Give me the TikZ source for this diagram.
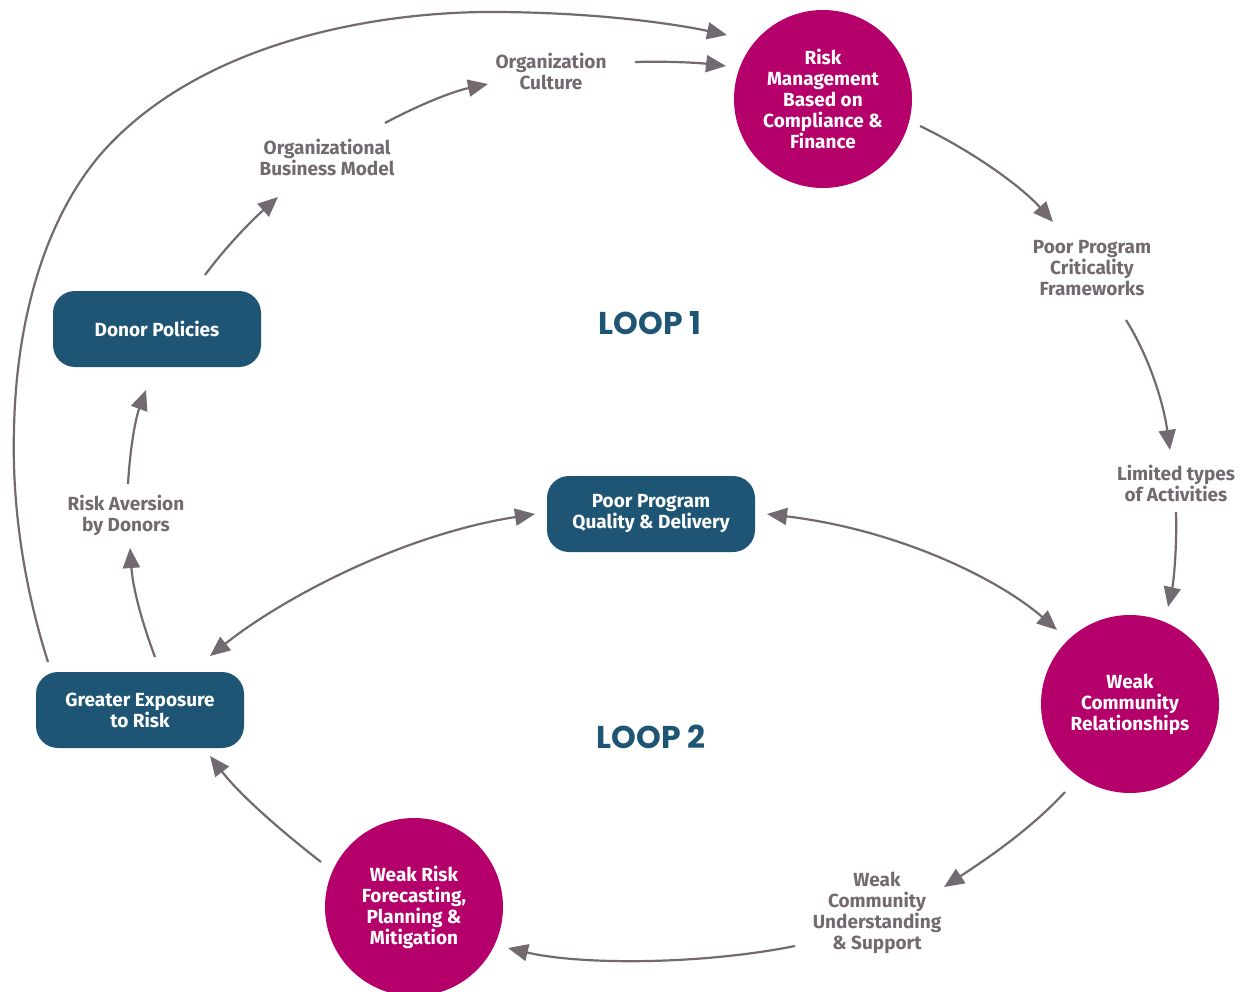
\documentclass[tikz,border=0pt]{standalone}
\usepackage{fontspec}
\setmainfont{Fira Sans}
\newfontfamily\loopfont{Poppins}
\usetikzlibrary{arrows.meta,calc}
\definecolor{mag}{HTML}{B5006B}
\definecolor{navy}{HTML}{1F5574}
\definecolor{ink}{HTML}{726A70}
\tikzset{
 circ/.style={circle,fill=mag,minimum size=178pt,inner sep=0pt,text=white,
   font=\fontsize{19}{21}\selectfont\bfseries,align=center},
 box/.style={rounded corners=22pt,fill=navy,minimum width=208pt,minimum height=76pt,
   text=white,font=\fontsize{19}{21}\selectfont\bfseries,align=center},
 lbl/.style={text=ink,font=\fontsize{19}{21}\selectfont\bfseries,align=center},
 looplbl/.style={text=navy,font=\loopfont\fontsize{31.5}{34}\selectfont\bfseries},
 tip/.tip={Triangle[length=20pt,width=17pt]},
 arr/.style={draw=ink,line width=2.2pt,-tip},
 darr/.style={draw=ink,line width=2.2pt,tip-tip},
}
\begin{document}
\begin{tikzpicture}[x=1pt,y=-1pt]
\useasboundingbox (0,0) rectangle (1247,992);
% main nodes
\node[circ] (risk) at (823,99) {Risk\\Management\\Based on\\Compliance \&\\Finance};
\node[circ] (wcr) at (1130,704) {Weak\\Community\\Relationships};
\node[circ] (wrf) at (414,907) {Weak Risk\\Forecasting,\\Planning \&\\Mitigation};
\node[box] (dp) at (157,329) {Donor Policies};
\node[box] (ppq) at (651,514) {Poor Program\\Quality \& Delivery};
\node[box] (ge) at (140,710) {Greater Exposure\\to Risk};
% labels
\node[lbl] (oc) at (551,71) {Organization\\Culture};
\node[lbl] (obm) at (327,157) {Organizational\\Business Model};
\node[lbl] (cf) at (1092,268) {Poor Program\\Criticality\\Frameworks};
\node[lbl] (lt) at (1176,483) {Limited types\\of Activities};
\node[lbl] (wcu) at (877,913) {Weak\\Community\\Understanding\\\& Support};
\node[lbl] (ra) at (126,515) {Risk Aversion\\by Donors};
\node[looplbl] (l1) at (650,323) {LOOP 1};
\node[looplbl] (l2) at (651,737) {LOOP 2};
% connectors
\draw[arr] ($(ge)+(-92,-48)$) .. controls (22,580) and (12,500) .. (14,430)
  .. controls (16,320) and (45,220) .. (100,155)
  .. controls (200,40) and (380,12) .. (490,12)
  .. controls (600,12) and (680,25) .. ($(risk)+(-96,-64)$);
\draw[arr] ($(oc)+(84,-9)$) .. controls (670,61) and (700,63) .. ($(risk)+(-97,-33)$);
\draw[arr] ($(obm)+(58,-34)$) .. controls (415,107) and (450,92) .. ($(oc)+(-63,13)$);
\draw[arr] ($(dp)+(48,-54)$) .. controls (225,248) and (250,222) .. ($(obm)+(-49,40)$);
\draw[arr] ($(ra)+(2,-31)$) .. controls (130,450) and (135,420) .. ($(dp)+(-11,61)$);
\draw[arr] ($(ge)+(15,-53)$) .. controls (143,625) and (133,590) .. ($(ra)+(4,33)$);
\draw[arr] ($(risk)+(97,27)$) .. controls (970,150) and (1020,185) .. ($(cf)+(-39,-46)$);
\draw[arr] ($(cf)+(34,52)$) .. controls (1148,355) and (1163,400) .. ($(lt)+(-6,-33)$);
\draw[arr] ($(lt)+(0,29)$) .. controls (1177,545) and (1174,580) .. ($(wcr)+(38,-97)$);
\draw[arr] ($(wcr)+(-65,88)$) .. controls (1030,830) and (985,860) .. ($(wcu)+(67,-26)$);
\draw[arr] ($(wcu)+(-82,33)$) .. controls (700,965) and (580,965) .. ($(wrf)+(94,41)$);
\draw[arr] ($(wrf)+(-93,-45)$) .. controls (280,830) and (240,795) .. ($(ge)+(70,46)$);
\draw[darr] ($(ge)+(70,-54)$) .. controls (280,600) and (400,535) .. ($(ppq)+(-116,0)$);
\draw[darr] ($(ppq)+(116,0)$) .. controls (900,530) and (1000,580) .. ($(wcr)+(-73,-74)$);
\end{tikzpicture}
\end{document}
